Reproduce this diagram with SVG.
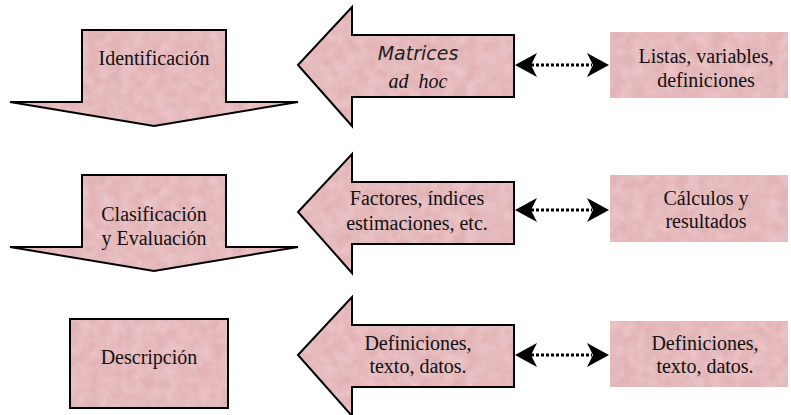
<svg xmlns="http://www.w3.org/2000/svg" xmlns:xlink="http://www.w3.org/1999/xlink" width="791" height="415" viewBox="0 0 791 415">
<defs>
<style>
.fill{fill:#e2b3b6;filter:url(#tex);}
.edge{fill:none;stroke:#000;stroke-width:2;stroke-linejoin:miter;}
.t{font-family:"Liberation Serif","Times New Roman",serif;font-size:20px;fill:#111;text-anchor:middle;}
.ts{font-family:"DejaVu Sans",sans-serif;font-style:italic;font-size:19px;fill:#222;text-anchor:middle;}
.ti{font-style:italic;}
.dots{stroke:#000;stroke-width:3;stroke-dasharray:3 2;fill:none;}
</style>
<filter id="tex" x="0" y="0" width="1" height="1" color-interpolation-filters="sRGB">
<feTurbulence type="fractalNoise" baseFrequency="0.09" numOctaves="3" seed="4" result="n"/>
<feColorMatrix in="n" type="matrix" values="0 0 0 0 1  0 0 0 0 0.93  0 0 0 0 0.94  0 0 0 0.55 -0.15" result="w"/>
<feComposite in="w" in2="SourceGraphic" operator="atop"/>
</filter>
<path id="ah" d="M0,0 L-22,-12 L-16,0 L-22,12 Z" fill="#000"/>
<polygon id="down" points="82,0 226,0 226,72 298,72 154,96 10,72 82,72"/>
<polygon id="left" points="298,0 352,-58 352,-30 514,-30 514,32 352,32 352,61"/>
</defs>

<g id="identificacion">
<use xlink:href="#down" class="fill" transform="translate(0,30)"/>
<use xlink:href="#down" class="edge" transform="translate(0,30)"/>
<text class="t" x="154" y="65">Identificación</text>
</g>

<g id="clasificacion">
<use xlink:href="#down" class="fill" transform="translate(0,175)"/>
<use xlink:href="#down" class="edge" transform="translate(0,175)"/>
<text class="t" x="154" y="221">Clasificación</text>
<text class="t" x="154" y="245">y Evaluación</text>
</g>

<g id="descripcion">
<rect class="fill" x="70" y="319" width="158" height="89"/>
<rect class="edge" x="70" y="319" width="158" height="89"/>
<text class="t" x="149" y="364">Descripción</text>
</g>

<g id="matrices">
<use xlink:href="#left" class="fill" transform="translate(0,65)"/>
<use xlink:href="#left" class="edge" transform="translate(0,65)"/>
<text class="ts" x="418" y="60">Matrices</text>
<text class="t ti" x="418" y="88" style="word-spacing:5px">ad hoc</text>
</g>

<g id="factores">
<use xlink:href="#left" class="fill" transform="translate(0,212)"/>
<use xlink:href="#left" class="edge" transform="translate(0,212)"/>
<text class="t" x="417" y="205">Factores, índices</text>
<text class="t" x="417" y="230">estimaciones, etc.</text>
</g>

<g id="definiciones-izq">
<use xlink:href="#left" class="fill" transform="translate(0,355)"/>
<use xlink:href="#left" class="edge" transform="translate(0,355)"/>
<text class="t" x="418" y="350">Definiciones,</text>
<text class="t" x="418" y="373">texto, datos.</text>
</g>

<g id="listas">
<rect class="fill" x="610" y="32" width="178" height="66"/>
<text class="t" x="706" y="63">Listas, variables,</text>
<text class="t" x="706" y="87">definiciones</text>
</g>

<g id="calculos">
<rect class="fill" x="610" y="175" width="178" height="67"/>
<text class="t" x="706" y="205">Cálculos y</text>
<text class="t" x="706" y="228">resultados</text>
</g>

<g id="definiciones-der">
<rect class="fill" x="610" y="321" width="178" height="66"/>
<text class="t" x="705" y="350">Definiciones,</text>
<text class="t" x="705" y="373">texto, datos.</text>
</g>

<g id="connectors">
<line class="dots" x1="531" y1="65" x2="592" y2="65"/>
<use xlink:href="#ah" transform="translate(515,65) rotate(180)"/>
<use xlink:href="#ah" transform="translate(609,65)"/>
<line class="dots" x1="531" y1="210" x2="592" y2="210"/>
<use xlink:href="#ah" transform="translate(515,210) rotate(180)"/>
<use xlink:href="#ah" transform="translate(609,210)"/>
<line class="dots" x1="531" y1="355" x2="592" y2="355"/>
<use xlink:href="#ah" transform="translate(515,355) rotate(180)"/>
<use xlink:href="#ah" transform="translate(609,355)"/>
</g>
</svg>
